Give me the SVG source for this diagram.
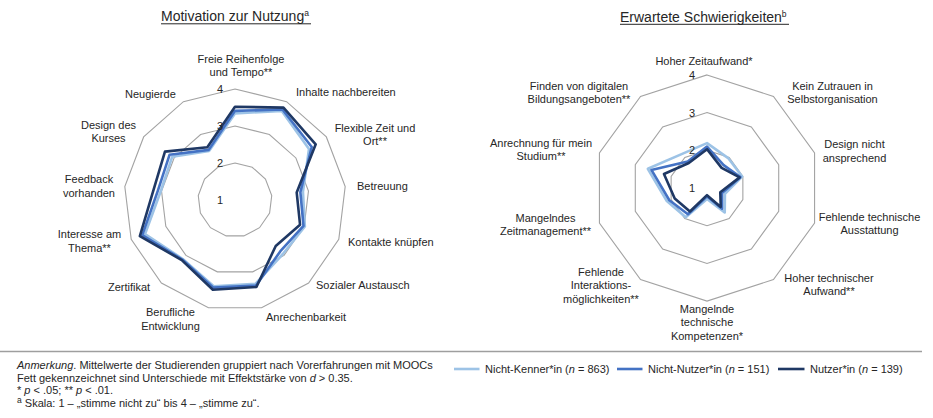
<svg xmlns="http://www.w3.org/2000/svg" width="933" height="418" viewBox="0 0 933 418">
<style>
text{font-family:"Liberation Sans",Arial,sans-serif;font-size:11px;fill:#262626}
.title{font-size:14px}
.sup{font-size:8.5px}
.grid{fill:none;stroke:#a3a3a3;stroke-width:1.1}
.s{fill:none;stroke-width:2.6;stroke-linejoin:round}
.lk{stroke:#9dc3e6}
.nn{stroke:#4472c4}
.nu{stroke:#1f3864}
.m{text-anchor:middle}
</style>
<rect width="933" height="418" fill="#fff"/>

<g id="left-chart">
<text class="title" x="161" y="21">Motivation zur Nutzung<tspan class="sup" dy="-5">a</tspan></text>
<line x1="161" y1="23.8" x2="311" y2="23.8" stroke="#262626" stroke-width="1"/>
<g id="left-grid">
<polygon class="grid" points="235,163 252.19,167.24 265.45,178.98 271.73,195.54 269.6,213.12 259.53,227.69 243.85,235.92 226.15,235.92 210.47,227.69 200.4,213.12 198.27,195.54 204.55,178.98 217.81,167.24"/>
<polygon class="grid" points="235,126 269.39,134.47 295.9,157.96 308.46,191.08 304.19,226.24 284.07,255.39 252.71,271.85 217.29,271.85 185.93,255.39 165.81,226.24 161.54,191.08 174.1,157.96 200.61,134.47"/>
<polygon class="grid" points="235,89 286.58,101.71 326.35,136.94 345.19,186.62 338.79,239.36 308.6,283.08 261.56,307.77 208.44,307.77 161.4,283.08 131.21,239.36 124.81,186.62 143.65,136.94 183.42,101.71"/>
</g>
<g id="left-series">
<polygon class="s lk" points="235,113.42 281.77,110.88 309,148.92 302.95,191.75 304.88,226.5 282.84,254 255.63,283.7 213.75,286.22 182.74,258.99 145.05,234.11 160.81,190.99 172.27,156.7 209.21,150.85"/>
<polygon class="s nn" points="235,110.83 282.46,109.57 311.74,147.03 300.38,192.06 303.5,225.98 280.39,251.24 256.07,285.5 213.4,287.65 182.25,259.54 142.29,235.16 157.87,190.64 169.53,154.81 208.69,149.87"/>
<polygon class="s nu" points="235,106.76 283.49,107.61 315.7,144.3 296.71,192.51 300.04,224.67 275.73,245.97 256.43,286.93 212.86,289.81 181.76,260.1 139.86,236.08 153.46,190.1 164.96,151.65 207.32,147.25"/>
</g>
<g id="left-scale">
<text class="m" x="220" y="93">4</text>
<text class="m" x="220" y="130">3</text>
<text class="m" x="220" y="167">2</text>
<text class="m" x="220" y="204">1</text>
</g>
<g id="left-labels">
<text class="m" x="241" y="62.5">Freie Reihenfolge</text>
<text class="m" x="241" y="76">und Tempo**</text>
<text x="296" y="95.5">Inhalte nachbereiten</text>
<text class="m" x="375" y="131.5">Flexible Zeit und</text>
<text class="m" x="375" y="145">Ort**</text>
<text x="357" y="190">Betreuung</text>
<text x="348" y="246">Kontakte knüpfen</text>
<text x="316" y="289">Sozialer Austausch</text>
<text x="266" y="320.5">Anrechenbarkeit</text>
<text class="m" x="170.5" y="316">Berufliche</text>
<text class="m" x="170.5" y="330">Entwicklung</text>
<text x="108" y="290.5">Zertifikat</text>
<text class="m" x="89.5" y="238">Interesse am</text>
<text class="m" x="89.5" y="251.5">Thema**</text>
<text class="m" x="89" y="182.5">Feedback</text>
<text class="m" x="89" y="196.5">vorhanden</text>
<text class="m" x="108.5" y="128.5">Design des</text>
<text class="m" x="108.5" y="141.5">Kurses</text>
<text x="125" y="98">Neugierde</text>
</g>
</g>

<g id="right-chart">
<text class="title" x="620" y="21.5">Erwartete Schwierigkeiten<tspan class="sup" dy="-5">b</tspan></text>
<line x1="620" y1="24.3" x2="789" y2="24.3" stroke="#262626" stroke-width="1"/>
<g id="right-grid">
<polygon class="grid" points="707,150.3 729.16,157.5 742.86,176.35 742.86,199.65 729.16,218.5 707,225.7 684.84,218.5 671.14,199.65 671.14,176.35 684.84,157.5"/>
<polygon class="grid" points="707,112.6 751.32,127 778.71,164.7 778.71,211.3 751.32,249 707,263.4 662.68,249 635.29,211.3 635.29,164.7 662.68,127"/>
<polygon class="grid" points="707,74.9 773.48,96.5 814.57,153.05 814.57,222.95 773.48,279.5 707,301.1 640.52,279.5 599.43,222.95 599.43,153.05 640.52,96.5"/>
</g>
<g id="right-series">
<polygon class="s lk" points="707,143.14 728.5,158.41 742.14,176.58 724.93,193.82 724.73,212.4 707,198.93 685.73,217.28 666.84,201.05 647.83,168.78 682.18,153.84"/>
<polygon class="s nn" points="707,146.53 723.62,165.12 740.35,177.17 722.06,192.89 722.07,208.74 707,196.29 687.94,214.23 669.35,200.23 651.42,169.94 687.72,161.46"/>
<polygon class="s nu" points="707,149.17 721.62,167.87 739.63,177.4 720.27,192.31 720.74,206.91 707,195.16 689.94,211.49 674.73,198.48 663.97,174.02 688.83,162.99"/>
</g>
<g id="right-scale">
<text class="m" x="692" y="79.3">4</text>
<text class="m" x="692" y="116.8">3</text>
<text class="m" x="692" y="154.3">2</text>
<text class="m" x="692" y="192.2">1</text>
</g>
<g id="right-labels">
<text class="m" x="704" y="65">Hoher Zeitaufwand*</text>
<text class="m" x="832.5" y="90">Kein Zutrauen in</text>
<text class="m" x="832.5" y="102.5">Selbstorganisation</text>
<text class="m" x="854.5" y="148">Design nicht</text>
<text class="m" x="854.5" y="161.5">ansprechend</text>
<text class="m" x="869.5" y="221">Fehlende technische</text>
<text class="m" x="869.5" y="234">Ausstattung</text>
<text class="m" x="829" y="281.5">Hoher technischer</text>
<text class="m" x="829" y="295">Aufwand**</text>
<text class="m" x="707" y="313">Mangelnde</text>
<text class="m" x="707" y="326.3">technische</text>
<text class="m" x="707" y="339.5">Kompetenzen*</text>
<text class="m" x="601" y="275.5">Fehlende</text>
<text class="m" x="601" y="289">Interaktions-</text>
<text class="m" x="601" y="302.5">möglichkeiten**</text>
<text class="m" x="545.5" y="221.5">Mangelndes</text>
<text class="m" x="545.5" y="235">Zeitmanagement**</text>
<text class="m" x="541" y="147.3">Anrechnung für mein</text>
<text class="m" x="541" y="160">Studium**</text>
<text class="m" x="579" y="90">Finden von digitalen</text>
<text class="m" x="579" y="102.5">Bildungsangeboten**</text>
</g>
</g>

<line id="rule" x1="0" y1="351.5" x2="922" y2="351.5" stroke="#9e9e9e" stroke-width="1.5"/>

<g id="notes">
<text x="17" y="369"><tspan font-style="italic">Anmerkung</tspan>. Mittelwerte der Studierenden gruppiert nach Vorerfahrungen mit MOOCs</text>
<text x="17" y="381.5">Fett gekennzeichnet sind Unterschiede mit Effektstärke von <tspan font-style="italic">d</tspan> &gt; 0.35.</text>
<text x="17" y="394">* <tspan font-style="italic">p</tspan> &lt; .05; ** <tspan font-style="italic">p</tspan> &lt; .01.</text>
<text x="17" y="406.5"><tspan class="sup" dy="-4">a</tspan><tspan dy="4"> Skala: 1 – „stimme nicht zu“ bis 4 – „stimme zu“.</tspan></text>
</g>

<g id="legend">
<line class="s lk" x1="454" y1="369" x2="479.5" y2="369"/>
<text x="485" y="372.5">Nicht-Kenner*in (<tspan font-style="italic">n</tspan> = 863)</text>
<line class="s nn" x1="617" y1="369" x2="642.5" y2="369"/>
<text x="648" y="372.5">Nicht-Nutzer*in (<tspan font-style="italic">n</tspan> = 151)</text>
<line class="s nu" x1="778" y1="369" x2="804.5" y2="369"/>
<text x="810" y="372.5">Nutzer*in (<tspan font-style="italic">n</tspan> = 139)</text>
</g>
</svg>
